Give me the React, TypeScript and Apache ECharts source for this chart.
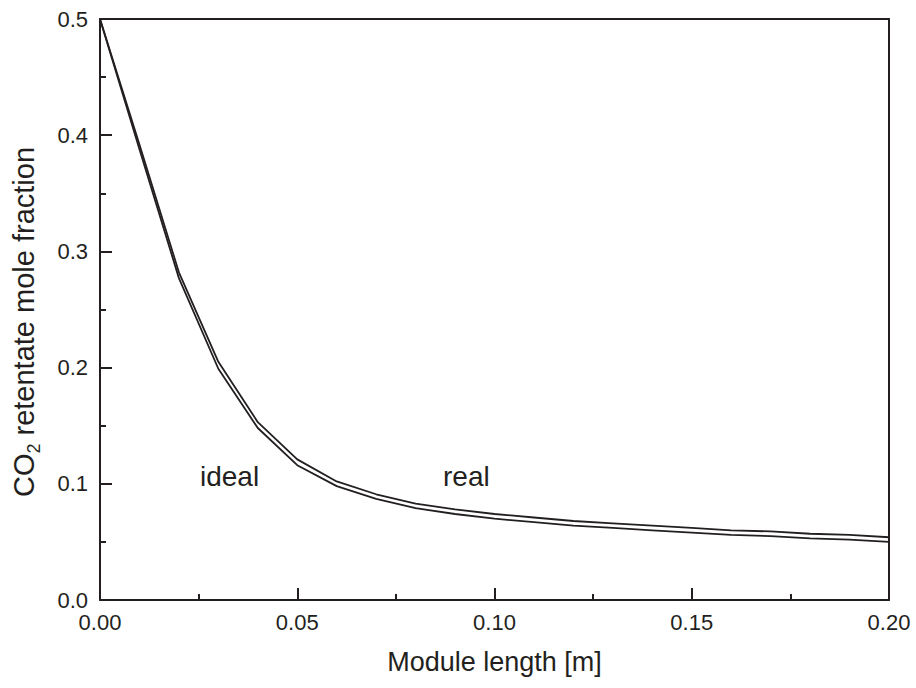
import React, { useEffect, useRef } from "react";
import * as echarts from "echarts";

const xValues = [0, 0.01, 0.02, 0.03, 0.04, 0.05, 0.06, 0.07, 0.08, 0.09, 0.1, 0.11, 0.12, 0.13, 0.14, 0.15, 0.16, 0.17, 0.18, 0.19, 0.2];
const realValues = [0.5, 0.392, 0.282, 0.205, 0.153, 0.121, 0.102, 0.091, 0.083, 0.078, 0.074, 0.071, 0.068, 0.066, 0.064, 0.062, 0.060, 0.059, 0.057, 0.056, 0.054];
const idealValues = [0.5, 0.388, 0.277, 0.199, 0.148, 0.116, 0.098, 0.087, 0.079, 0.074, 0.070, 0.067, 0.064, 0.062, 0.060, 0.058, 0.056, 0.055, 0.053, 0.052, 0.050];
const curveLabels = ["ideal", "real"];
const yTitle = "CO{sub|2} retentate mole fraction";

const FONT = "Liberation Sans, Arial, sans-serif";
const INK = "#231f20";

export default function App() {
  const ref = useRef<HTMLDivElement>(null);
  useEffect(() => {
    if (!ref.current) return;
    const chart = echarts.init(ref.current, null, { renderer: "svg" });
    const axisLine = { show: true, onZero: false, lineStyle: { color: INK, width: 2 } };
    chart.setOption({
      animation: false,
      backgroundColor: "#ffffff",
      grid: { left: 100, right: 27, top: 19, bottom: 88 },
      xAxis: [
        {
          type: "value",
          min: 0,
          max: 0.2,
          interval: 0.05,
          position: "bottom",
          name: "Module length [m]",
          nameLocation: "middle",
          nameGap: 48,
          nameTextStyle: { fontFamily: FONT, fontSize: 27, color: INK },
          axisLine,
          axisTick: { show: true, inside: true, length: 12, lineStyle: { color: INK, width: 2 } },
          minorTick: { show: true, splitNumber: 2, length: 6, lineStyle: { color: INK, width: 2 } },
          splitLine: { show: false },
          axisLabel: {
            margin: 11,
            fontFamily: FONT,
            fontSize: 22,
            color: INK,
            formatter: (v: number) => v.toFixed(2),
          },
        },
        {
          type: "value",
          min: 0,
          max: 0.2,
          position: "top",
          axisLine,
          axisTick: { show: false },
          axisLabel: { show: false },
          splitLine: { show: false },
        },
      ],
      yAxis: [
        {
          type: "value",
          min: 0,
          max: 0.5,
          interval: 0.1,
          position: "left",
          axisLine,
          axisTick: { show: true, inside: true, length: 12, lineStyle: { color: INK, width: 2 } },
          minorTick: { show: true, splitNumber: 2, length: 6, lineStyle: { color: INK, width: 2 } },
          splitLine: { show: false },
          axisLabel: {
            margin: 12,
            fontFamily: FONT,
            fontSize: 22,
            color: INK,
            formatter: (v: number) => v.toFixed(1),
          },
        },
        {
          type: "value",
          min: 0,
          max: 0.5,
          position: "right",
          axisLine,
          axisTick: { show: false },
          axisLabel: { show: false },
          splitLine: { show: false },
        },
      ],
      graphic: [
        {
          type: "text",
          x: 24,
          y: 322,
          rotation: Math.PI / 2,
          style: {
            text: yTitle,
            fontFamily: FONT,
            fontSize: 29,
            fill: INK,
            align: "center",
            verticalAlign: "middle",
            rich: {
              sub: { fontFamily: FONT, fontSize: 18, fill: INK, verticalAlign: "bottom", lineHeight: 38, padding: [14, 0, 0, 0] },
            },
          },
        },
        {
          type: "text",
          left: 200,
          top: 462,
          style: { text: curveLabels[0], fontFamily: FONT, fontSize: 28, fill: INK },
        },
        {
          type: "text",
          left: 443,
          top: 462,
          style: { text: curveLabels[1], fontFamily: FONT, fontSize: 28, fill: INK },
        },
      ],
      series: [
        {
          name: "real",
          type: "line",
          data: xValues.map((x, i) => [x, realValues[i]]),
          showSymbol: false,
          lineStyle: { color: INK, width: 1.8 },
        },
        {
          name: "ideal",
          type: "line",
          data: xValues.map((x, i) => [x, idealValues[i]]),
          showSymbol: false,
          lineStyle: { color: INK, width: 1.8 },
        },
      ],
    });
    return () => chart.dispose();
  }, []);
  return <div ref={ref} style={{ width: 916, height: 688, position: "fixed", left: 0, top: 0 }} />;
}
